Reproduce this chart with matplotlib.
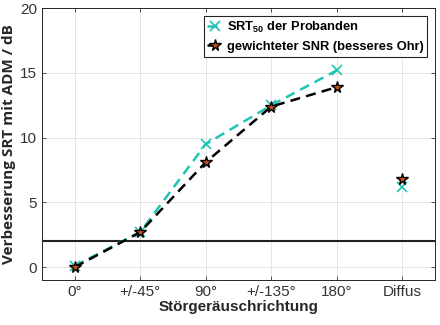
import numpy as np
import matplotlib.pyplot as plt

plt.rcParams['font.family'] = ['Liberation Sans', 'DejaVu Sans']
plt.rcParams['mathtext.fontset'] = 'custom'
plt.rcParams['mathtext.bf'] = 'Liberation Sans:bold'
plt.rcParams['mathtext.rm'] = 'Liberation Sans'

# Störgeräuschrichtungen
richtungen = ['0°', '+/-45°', '90°', '+/-135°', '180°', 'Diffus']
srt50 = [0.1, 2.7, 9.5, 12.5, 15.2, 6.2]      # SRT50 der Probanden
snr_gew = [0.0, 2.7, 8.1, 12.4, 13.9, 6.8]    # gewichteter SNR (besseres Ohr)
schwelle = 2.0

x = np.arange(1, len(richtungen) + 1)
teal = '#1fc4b4'

fig = plt.figure(figsize=(4.4, 3.25), dpi=100)
ax = fig.add_axes([0.095, 0.138, 0.894, 0.837])

ax.axhline(schwelle, color='#222222', lw=1.5, zorder=2)

# gerichtete Störgeräusche verbunden, diffus einzeln
ax.plot(x[:5], srt50[:5], '--x', color=teal, lw=1.8, ms=7, mew=1.2,
        dashes=(4, 2.5), label=r'SRT$_{\mathbf{50}}$ der Probanden', zorder=3)
ax.plot(x[5:], srt50[5:], 'x', color=teal, ms=7, mew=1.2, zorder=3)
ax.plot(x[:5], snr_gew[:5], '--*', color='black', lw=1.8, ms=8.5,
        mfc='#c0501c', mec='black', mew=1.0, dashes=(4, 2.5),
        label='gewichteter SNR (besseres Ohr)', zorder=4)
ax.plot(x[5:], snr_gew[5:], '*', ms=8.5, mfc='#c0501c', mec='black',
        mew=1.0, zorder=4)

ax.set_xlim(0.5, 6.5)
ax.set_ylim(-1, 20)
ax.set_xticks(x)
ax.set_xticklabels(richtungen)
ax.set_yticks([0, 5, 10, 15, 20])
ax.tick_params(direction='in', length=3, top=True, right=True,
               labelsize=11, colors='#333333', width=0.6)
for s in ax.spines.values():
    s.set_color('#262626')
    s.set_linewidth(0.7)
ax.grid(True, color='#e6e6e6', lw=0.7)
ax.set_axisbelow(True)

ax.set_xlabel('Störgeräuschrichtung', fontsize=11, fontweight='bold',
              color='#262626', labelpad=1)
ax.set_ylabel('Verbesserung SRT mit ADM / dB', fontsize=11,
              fontweight='bold', family=['Open Sans', 'DejaVu Sans'],
              color='#262626', labelpad=3)

leg = ax.legend(loc='upper right', prop={'weight': 'bold', 'size': 9.3},
                fancybox=False, edgecolor='#262626', framealpha=1,
                handlelength=1.2, borderaxespad=0.6, labelspacing=0.45,
                handletextpad=0.3, borderpad=0.3)
leg.get_frame().set_linewidth(0.8)

fig.savefig('out.png', dpi=100)
